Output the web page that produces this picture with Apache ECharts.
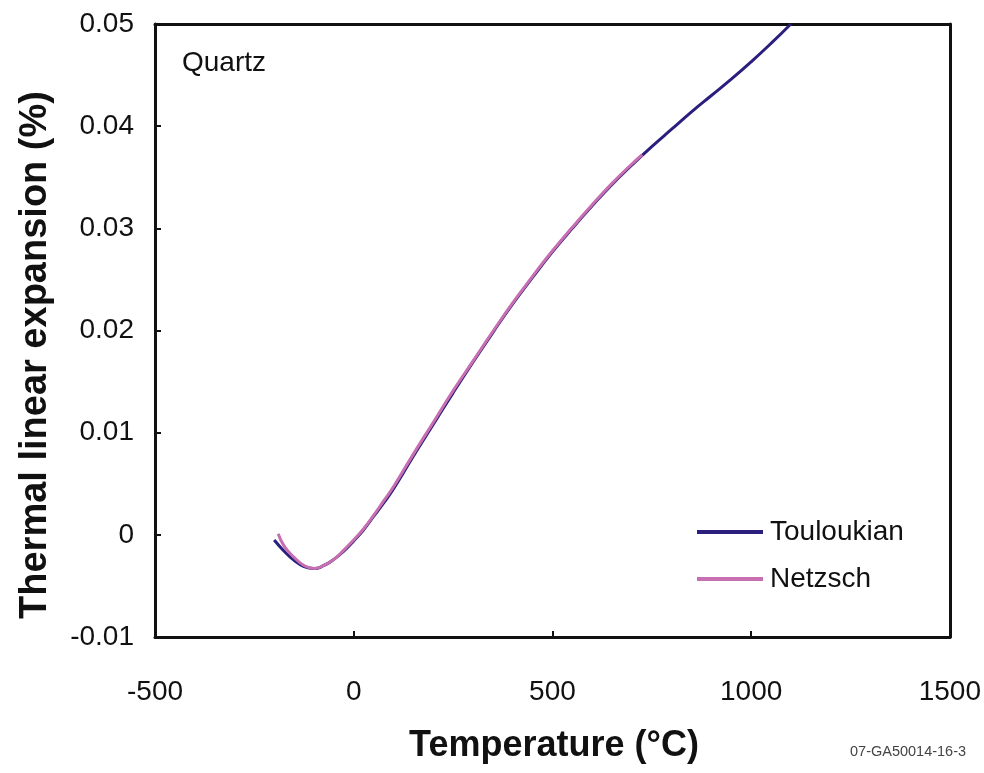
<!DOCTYPE html>
<html>
<head>
<meta charset="utf-8">
<script src="https://cdn.jsdelivr.net/npm/echarts@6/dist/echarts.min.js"></script>
<style>html,body{margin:0;padding:0;background:#fff;}#c{width:984px;height:773px;}</style>
</head>
<body>
<div id="c"></div>
<script>
// Data
const seriesNames = ['Touloukian', 'Netzsch'];
const touloukianT = [-200, -175, -150, -125, -100, -75, -50, -25, 0, 25, 50, 75, 100, 150, 200, 250, 300, 350, 400, 450, 500, 550, 600, 650, 700, 750, 800, 850, 900, 950, 1000, 1050, 1100];
const touloukianY = [-0.0005, -0.0016, -0.0025, -0.0031, -0.0033, -0.0030, -0.0024, -0.0016, -0.0006, 0.0005, 0.0018, 0.0031, 0.0045, 0.0077, 0.0108, 0.0139, 0.0169, 0.0198, 0.0226, 0.0252, 0.0277, 0.0300, 0.0322, 0.0343, 0.0362, 0.0380, 0.0397, 0.0414, 0.0430, 0.0446, 0.0463, 0.0481, 0.0500];
const netzschT = [-190, -175, -150, -125, -100, -75, -50, -25, 0, 25, 50, 75, 100, 150, 200, 250, 300, 350, 400, 450, 500, 550, 600, 650, 700, 726];
const netzschY = [0.0001, -0.0011, -0.0022, -0.0030, -0.0033, -0.0030, -0.0024, -0.0015, -0.0005, 0.0006, 0.0019, 0.0033, 0.0047, 0.0079, 0.0110, 0.0141, 0.0170, 0.0199, 0.0227, 0.0253, 0.0278, 0.0301, 0.0323, 0.0344, 0.0363, 0.0372];
const xTicks = [-500, 0, 500, 1000, 1500];
const yTicks = [-0.01, 0, 0.01, 0.02, 0.03, 0.04, 0.05];

const pair = (xs, ys) => xs.map((x, i) => [x, ys[i]]);
const chart = echarts.init(document.getElementById('c'));
const font = '"Liberation Sans", Arial, sans-serif';
const axisCommon = {
  type: 'value', splitLine: { show: false }
};
chart.setOption({
  animation: false,
  textStyle: { fontFamily: font },
  grid: { left: 155, right: 33, top: 24, bottom: 136 },
  xAxis: [Object.assign({}, axisCommon, {
    min: xTicks[0], max: xTicks[xTicks.length - 1], interval: 500,
    axisLine: { onZero: false, lineStyle: { color: '#111', width: 3 } },
    axisTick: { inside: true, length: 6, lineStyle: { color: '#111', width: 2 } },
    axisLabel: { fontSize: 28, color: '#111', margin: 41, formatter: v => String(v) }
  }), Object.assign({}, axisCommon, {
    position: 'top', min: xTicks[0], max: xTicks[xTicks.length - 1], interval: 500,
    axisLine: { show: true, onZero: false, lineStyle: { color: '#111', width: 3 } },
    axisTick: { show: false }, axisLabel: { show: false }
  })],
  yAxis: [Object.assign({}, axisCommon, {
    min: yTicks[0], max: yTicks[yTicks.length - 1], interval: 0.01,
    axisLine: { show: true, onZero: false, lineStyle: { color: '#111', width: 3 } },
    axisTick: { show: true, inside: true, length: 6, lineStyle: { color: '#111', width: 2 } },
    axisLabel: { fontSize: 28, color: '#111', margin: 21, formatter: v => (Math.round(v * 100) / 100).toString() }
  }), Object.assign({}, axisCommon, {
    position: 'right', min: yTicks[0], max: yTicks[yTicks.length - 1], interval: 0.01,
    axisLine: { show: true, onZero: false, lineStyle: { color: '#111', width: 3 } },
    axisTick: { show: false }, axisLabel: { show: false }
  })],
  legend: {
    orient: 'vertical', left: 692, top: 513, itemWidth: 66, itemHeight: 4, itemGap: 19,
    icon: 'rect',
    textStyle: { fontSize: 28, color: '#111', fontFamily: font, padding: [0, 0, 0, 2] },
    data: seriesNames
  },
  series: [{
    name: seriesNames[0], type: 'line', smooth: 0.5, showSymbol: false,
    lineStyle: { color: '#2b1f7e', width: 3 }, itemStyle: { color: '#2b1f7e' },
    data: pair(touloukianT, touloukianY), z: 2
  }, {
    name: seriesNames[1], type: 'line', smooth: 0.5, showSymbol: false,
    lineStyle: { color: '#c76fb1', width: 3 }, itemStyle: { color: '#c76fb1' },
    data: pair(netzschT, netzschY), z: 3
  }],
  graphic: [{
    type: 'text', left: 182, top: 49,
    style: { text: 'Quartz', fontSize: 28, fill: '#111', fontFamily: font }
  }, {
    type: 'text', x: 554, y: 746,
    style: { text: 'Temperature (°C)', fontSize: 36, fontWeight: 'bold', fill: '#111', fontFamily: font, align: 'center', verticalAlign: 'middle' }
  }, {
    type: 'text', x: 36, y: 355, rotation: Math.PI / 2,
    style: { text: 'Thermal linear expansion (%)', fontSize: 38, fontWeight: 'bold', fill: '#111', fontFamily: font, align: 'center', verticalAlign: 'middle' }
  }, {
    type: 'text', left: 850, top: 744,
    style: { text: '07-GA50014-16-3', fontSize: 14.5, fill: '#444', fontFamily: font }
  }]
});
</script>
</body>
</html>
